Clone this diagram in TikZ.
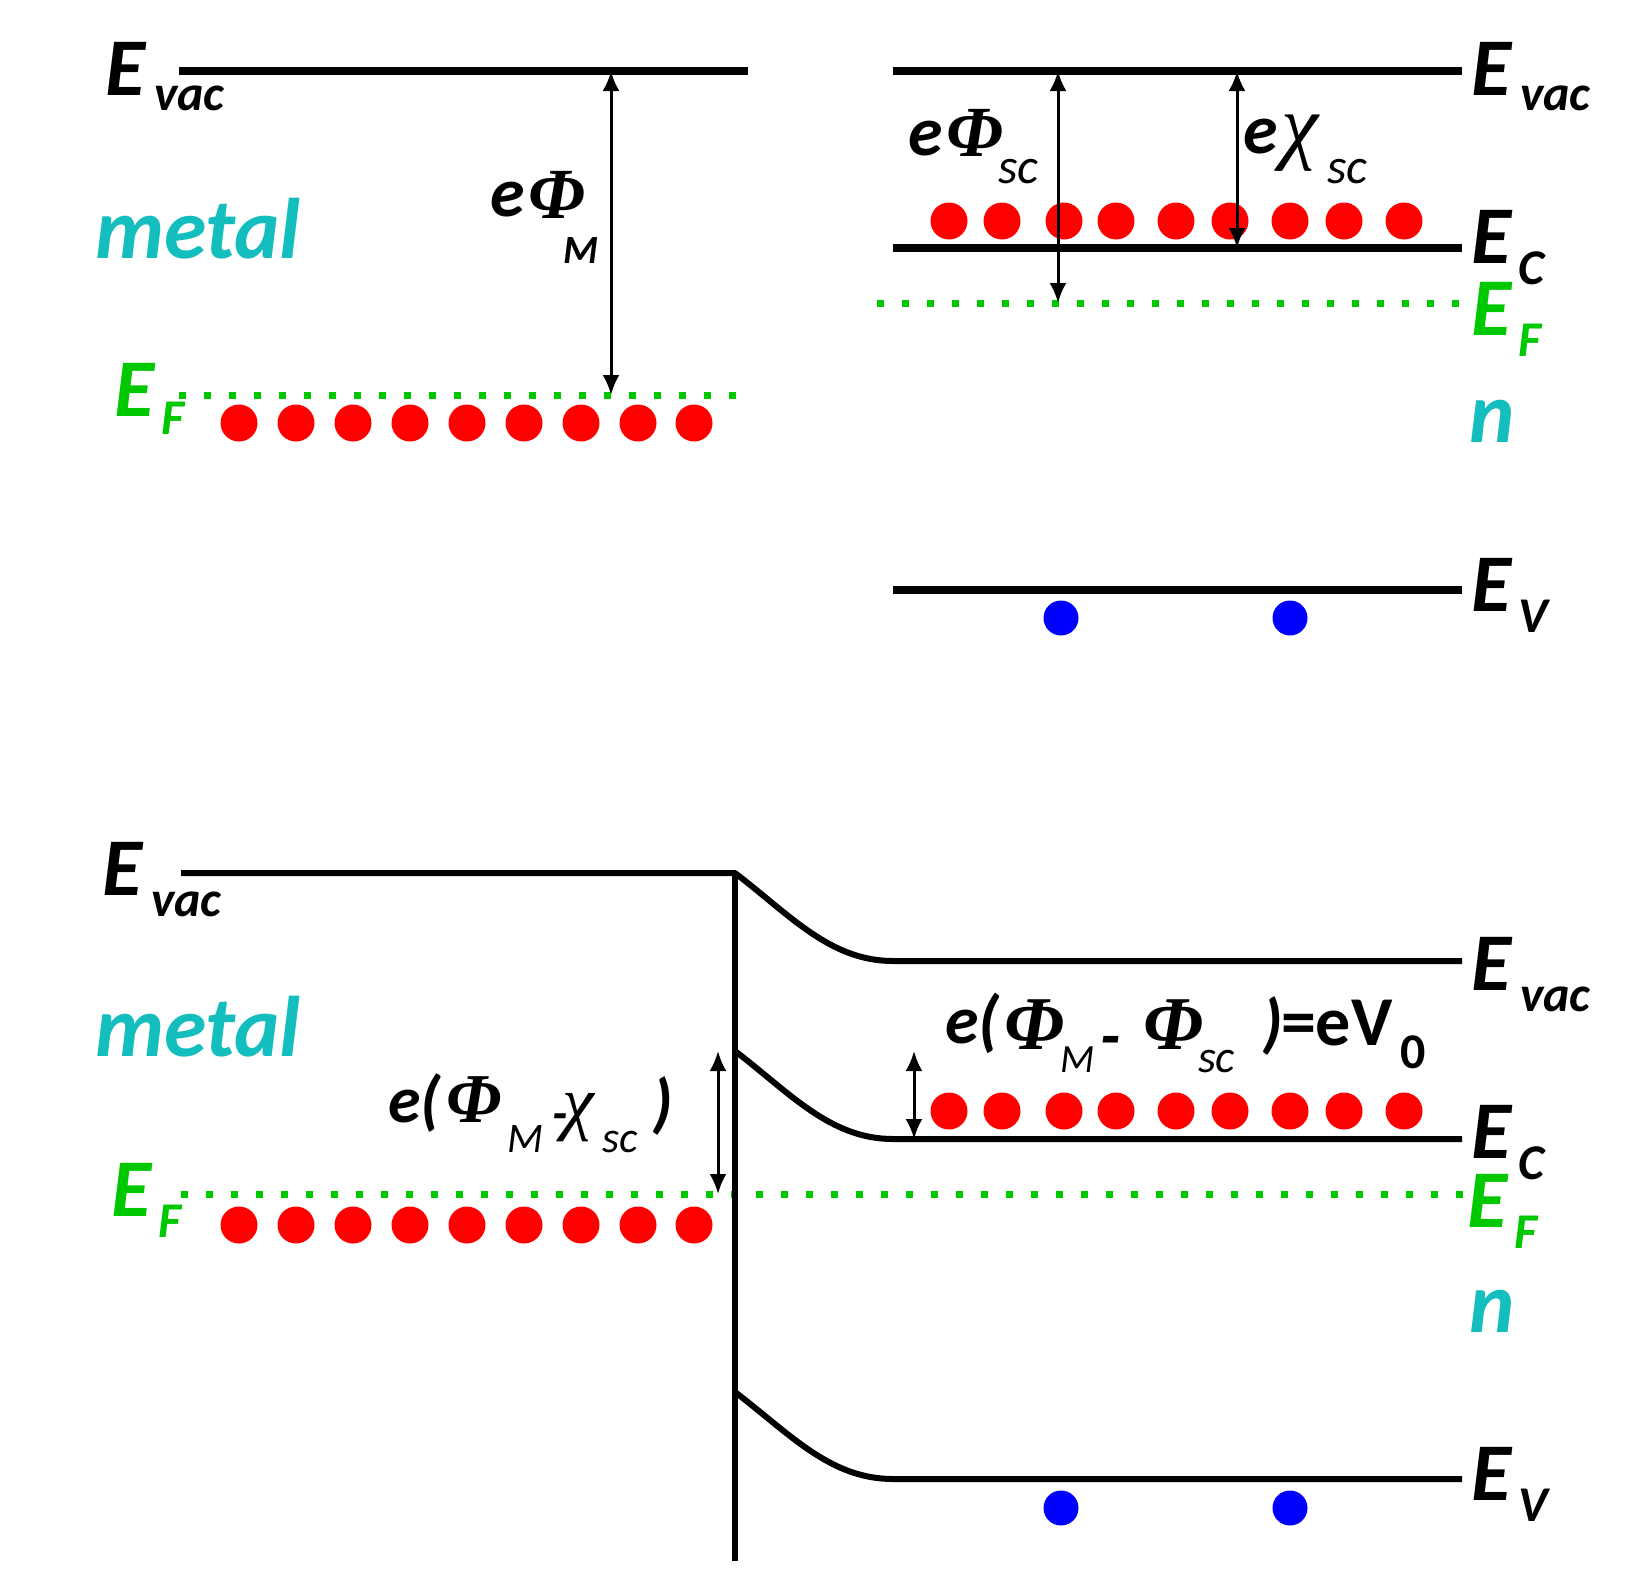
\documentclass[tikz,border=0pt]{standalone}
\usepackage{fontspec}
\setmainfont{Carlito}
\newfontfamily\grk{Liberation Serif}
\usetikzlibrary{arrows.meta}
\definecolor{cy}{RGB}{20,190,190}
\definecolor{gr}{RGB}{0,200,0}
\definecolor{rd}{RGB}{255,0,0}
\definecolor{bl}{RGB}{0,0,255}
\newcommand\fsz[1]{\fontsize{#1pt}{#1pt}\selectfont}
\begin{document}
\begin{tikzpicture}[x=1pt,y=-1pt,
  lab/.style={anchor=base west,inner sep=0pt,outer sep=0pt},
  Elab/.style={lab,font=\fsz{82}\bfseries\itshape},
  Esub/.style={lab,font=\fsz{50}\bfseries\itshape},
  big/.style={lab,font=\fsz{86}\bfseries\itshape,text=cy},
  bandA/.style={line width=8pt},
  bandB/.style={line width=6pt},
  fermi/.style={draw=gr,line width=7pt,dash pattern=on 7pt off 18pt},
  arr/.style={line width=3pt,{Latex[length=20pt,width=17pt]}-{Latex[length=20pt,width=17pt]}},
  elec/.style={circle,fill=rd,minimum size=37pt,inner sep=0pt},
  hole/.style={circle,fill=bl,minimum size=35pt,inner sep=0pt}]
\useasboundingbox (0,0) rectangle (1651,1595);

% ---------------- top left: metal ----------------
\coordinate (mvA) at (179,71);  \coordinate (mvB) at (748,71);
\coordinate (mfA) at (179,395); \coordinate (mfB) at (750,395);
\coordinate (mvX) at (611,71);  \coordinate (mfX) at (611,395);
\draw[bandA] (mvA) -- (mvB);
\draw[fermi] (mfA) -- (mfB);
\draw[arr] (mvX) -- (mfX);
\foreach \x [count=\i] in {239,296,353,410,467,524,581,638,694}
  \node[elec] (me\i) at (\x,423) {};
\node[Elab] (tlE) at (105,95) {E};
\node[Esub] (tlEs) at (154,110) {vac};
\node[Elab,text=gr] (tlF) at (114,416) {E};
\node[Esub,text=gr] (tlFs) at (161,434) {F};
\node[big] (tlmetal) at (95,258) {metal};
\node[lab,font=\fsz{70}\bfseries\itshape] (phM1) at (490,216) {e};
\node[lab,font=\fsz{72}\grk\bfseries\itshape] (phM2) at (528,218) {Φ};
\node[lab,font=\fsz{40}\bfseries\itshape] (phM3) at (563,263) {M};

% ---------------- top right: semiconductor ----------------
\coordinate (svA) at (893,71);  \coordinate (svB) at (1462,71);
\coordinate (scA) at (893,248); \coordinate (scB) at (1462,248);
\coordinate (sfA) at (877,303); \coordinate (sfB) at (1463,303);
\coordinate (svvA) at (893,590); \coordinate (svvB) at (1462,590);
\draw[bandA] (svA) -- (svB);
\draw[bandA] (scA) -- (scB);
\draw[bandA] (svvA) -- (svvB);
\draw[fermi] (sfA) -- (sfB);
\foreach \x [count=\i] in {949,1002,1064,1116,1176,1230,1290,1344,1404}
  \node[elec] (se\i) at (\x,221) {};
\node[hole] (sh1) at (1061,618) {};
\node[hole] (sh2) at (1290,618) {};
\coordinate (a1t) at (1058,71);  \coordinate (a1b) at (1058,303);
\coordinate (a2t) at (1237,71);  \coordinate (a2b) at (1237,248);
\draw[arr] (a1t) -- (a1b);
\draw[arr] (a2t) -- (a2b);
\node[lab,font=\fsz{70}\bfseries\itshape] (phS1) at (908,155) {e};
\node[lab,font=\fsz{72}\grk\bfseries\itshape] (phS2) at (946,156) {Φ};
\node[lab,font=\fsz{50}\itshape] (phS3) at (998,183) {sc};
\node[lab,font=\fsz{70}\bfseries\itshape] (chS1) at (1243,153) {e};
\node[lab,font=\fsz{84}\grk\itshape] (chS2) at (1281,153) {χ};
\node[lab,font=\fsz{50}\itshape] (chS3) at (1327,183) {sc};
\node[Elab] (trE1) at (1471,95) {E};
\node[Esub] (trE1s) at (1520,110) {vac};
\node[Elab] (trE2) at (1471,263) {E};
\node[Esub] (trE2s) at (1518,284) {C};
\node[Elab,text=gr] (trE3) at (1471,335) {E};
\node[Esub,text=gr] (trE3s) at (1518,356) {F};
\node[big] (trn) at (1469,442) {n};
\node[Elab] (trE4) at (1471,611) {E};
\node[Esub] (trE4s) at (1518,632) {V};

% ---------------- bottom: junction ----------------
\coordinate (bvA) at (181,873); \coordinate (bI) at (735,873);
\coordinate (bIb) at (735,1561);
\coordinate (bcI) at (735,1051); \coordinate (bvvI) at (735,1392);
\coordinate (bvK) at (893,961);  \coordinate (bvB) at (1462,961);
\coordinate (bcK) at (893,1139); \coordinate (bcB) at (1462,1139);
\coordinate (bvvK) at (893,1479); \coordinate (bvvB) at (1462,1479);
\coordinate (bfA) at (181,1194); \coordinate (bfB) at (1463,1194);
\draw[fermi] (bfA) -- (bfB);
\draw[bandB,line join=round] (bvA) -- (bI) .. controls (790,915) and (830,961) .. (bvK) -- (bvB);
\draw[bandB] (bI) -- (bIb);
\draw[bandB] (bcI) .. controls (790,1093) and (830,1139) .. (bcK) -- (bcB);
\draw[bandB] (bvvI) .. controls (790,1434) and (830,1479) .. (bvvK) -- (bvvB);
\foreach \x [count=\i] in {239,296,353,410,467,524,581,638,694}
  \node[elec] (bme\i) at (\x,1225) {};
\foreach \x [count=\i] in {949,1002,1064,1116,1176,1230,1290,1344,1404}
  \node[elec] (bse\i) at (\x,1111) {};
\node[hole] (bh1) at (1061,1508) {};
\node[hole] (bh2) at (1290,1508) {};
\coordinate (b1t) at (718,1051); \coordinate (b1b) at (718,1194);
\coordinate (b2t) at (914,1051); \coordinate (b2b) at (914,1139);
\draw[arr] (b1t) -- (b1b);
\draw[arr] (b2t) -- (b2b);

\node[Elab] (blE) at (102,895) {E};
\node[Esub] (blEs) at (151,916) {vac};
\node[big] (blmetal) at (95,1056) {metal};
\node[Elab,text=gr] (blF) at (111,1216) {E};
\node[Esub,text=gr] (blFs) at (158,1237) {F};
\node[Elab] (brE1) at (1471,990) {E};
\node[Esub] (brE1s) at (1520,1011) {vac};
\node[Elab] (brE2) at (1471,1158) {E};
\node[Esub] (brE2s) at (1518,1179) {C};
\node[Elab,text=gr] (brE3) at (1467,1227) {E};
\node[Esub,text=gr] (brE3s) at (1514,1248) {F};
\node[big] (brn) at (1469,1332) {n};
\node[Elab] (brE4) at (1471,1500) {E};
\node[Esub] (brE4s) at (1518,1521) {V};

% label e(Phi_M - chi_sc)
\node[lab,font=\fsz{66}\bfseries\itshape] (L1) at (388,1122) {e(};
\node[lab,font=\fsz{70}\grk\bfseries\itshape] (L2) at (446,1122) {Φ};
\node[lab,font=\fsz{42}\itshape] (L3) at (507,1152) {M};
\node[lab,font=\fsz{50}\bfseries\itshape] (L4) at (552,1130) {-};
\node[lab,font=\fsz{72}\grk\itshape] (L5) at (562,1126) {χ};
\node[lab,font=\fsz{44}\itshape] (L6) at (602,1152) {sc};
\node[lab,font=\fsz{66}\bfseries\itshape] (L7) at (652,1125) {)};

% label e(Phi_M - Phi_sc)=eV0
\node[lab,font=\fsz{68}\bfseries\itshape] (R1) at (945,1043) {e(};
\node[lab,font=\fsz{76}\grk\bfseries\itshape] (R2) at (1004,1049) {Φ};
\node[lab,font=\fsz{40}\itshape] (R3) at (1060,1072) {M};
\node[lab,font=\fsz{66}\bfseries\itshape] (R4) at (1100,1058) {-};
\node[lab,font=\fsz{76}\grk\bfseries\itshape] (R5) at (1143,1049) {Φ};
\node[lab,font=\fsz{46}\itshape] (R6) at (1198,1072) {sc};
\node[lab,font=\fsz{66}\bfseries\itshape] (R7) at (1262,1045) {)};
\node[lab,font=\fsz{70}\bfseries] (R8) at (1281,1045) {=eV};
\node[lab,font=\fsz{50}\bfseries] (R9) at (1400,1068) {0};
\end{tikzpicture}
\end{document}
